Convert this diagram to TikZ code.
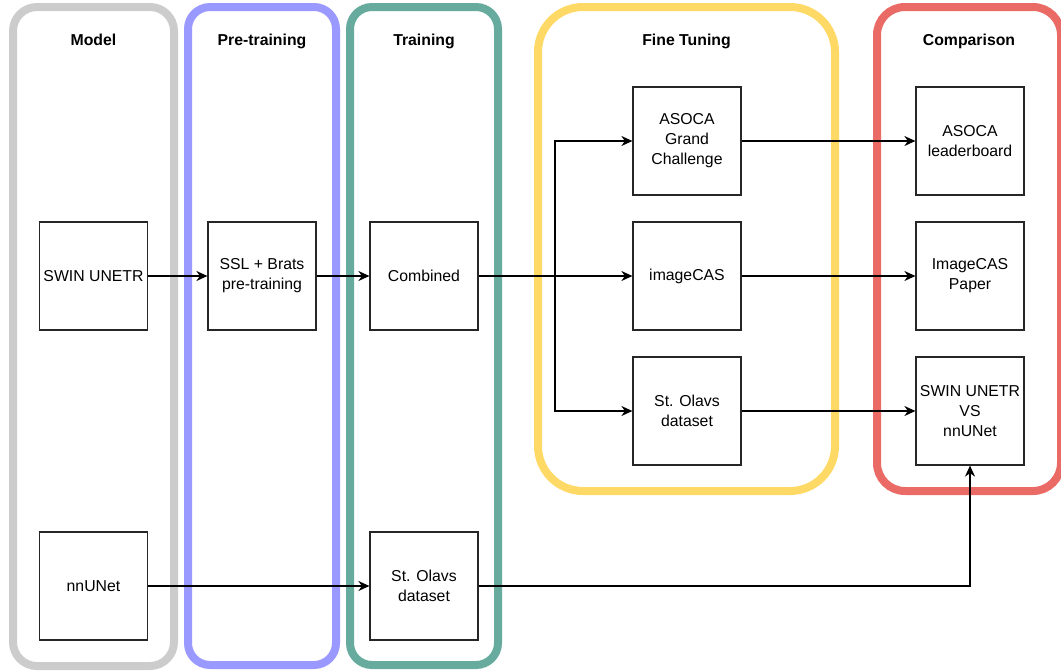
\documentclass[tikz,border=0pt]{standalone}
\usepackage{fontspec}
\setmainfont{Liberation Sans}
\usetikzlibrary{arrows.meta}
\definecolor{lanegray}{HTML}{CCCCCC}
\definecolor{laneblue}{HTML}{9999FF}
\definecolor{laneteal}{HTML}{67AB9F}
\definecolor{laneyellow}{HTML}{FFD966}
\definecolor{lanered}{HTML}{EA6B66}
\begin{document}
\begin{tikzpicture}[x=1pt,y=-1pt,
  lane/.style={line width=8pt},
  title/.style={font=\bfseries\fontsize{15.8}{19}\selectfont, anchor=base},
  box/.style={draw=black!85, line width=1.2pt, fill=white, minimum width=108pt,
    minimum height=108pt, align=center, inner sep=1pt,
    font=\fontsize{15.8}{20}\selectfont},
  arr/.style={-{Stealth[length=11pt,width=10pt,inset=3.5pt]}, line width=1.3pt}]
\useasboundingbox (0,0) rectangle (1061,670);

% swimlanes
\draw[lane, lanegray, rounded corners=24pt] (13,7) rectangle (174,666);
\draw[lane, laneblue, rounded corners=22pt] (188,7) rectangle (336,665);
\draw[lane, laneteal, rounded corners=22pt] (350,7) rectangle (498,665);
\draw[lane, laneyellow, rounded corners=45pt] (538,7) rectangle (835,491);
\draw[lane, lanered, rounded corners=28pt] (877,7) rectangle (1061,491);

% lane titles
\node[title] (tmodel) at (93.5,45) {Model};
\node[title] (tpre) at (262,45) {Pre-training};
\node[title] (ttrain) at (424,45) {Training};
\node[title] (tfine) at (686.5,45) {Fine Tuning};
\node[title] (tcomp) at (969,45) {Comparison};

% stage boxes
\node[box] (swin) at (93.5,276) {SWIN UNETR};
\node[box] (ssl) at (262,276) {SSL + Brats\\pre-training};
\node[box] (comb) at (424,276) {Combined};
\node[box] (nnunet) at (93.5,586) {nnUNet};
\node[box] (olavstr) at (424,586) {St. Olavs\\dataset};
\node[box] (asoca) at (687,141) {ASOCA\\Grand\\Challenge};
\node[box] (imcas) at (687,276) {imageCAS};
\node[box] (olavsft) at (687,411) {St. Olavs\\dataset};
\node[box] (asocalb) at (970,141) {ASOCA\\leaderboard};
\node[box] (impaper) at (970,276) {ImageCAS\\Paper};
\node[box] (vs) at (970,411) {SWIN UNETR\\VS\\nnUNet};

% connectors
\coordinate (branch) at (555,276);
\draw[arr] (swin) -- (ssl);
\draw[arr] (ssl) -- (comb);
\draw[arr] (comb) -- (imcas);
\draw[arr] (branch) |- (asoca.west);
\draw[arr] (branch) |- (olavsft.west);
\draw[arr] (asoca) -- (asocalb);
\draw[arr] (imcas) -- (impaper);
\draw[arr] (olavsft) -- (vs);
\draw[arr] (nnunet) -- (olavstr);
\draw[arr] (olavstr.east) -| (vs.south);
\end{tikzpicture}
\end{document}
